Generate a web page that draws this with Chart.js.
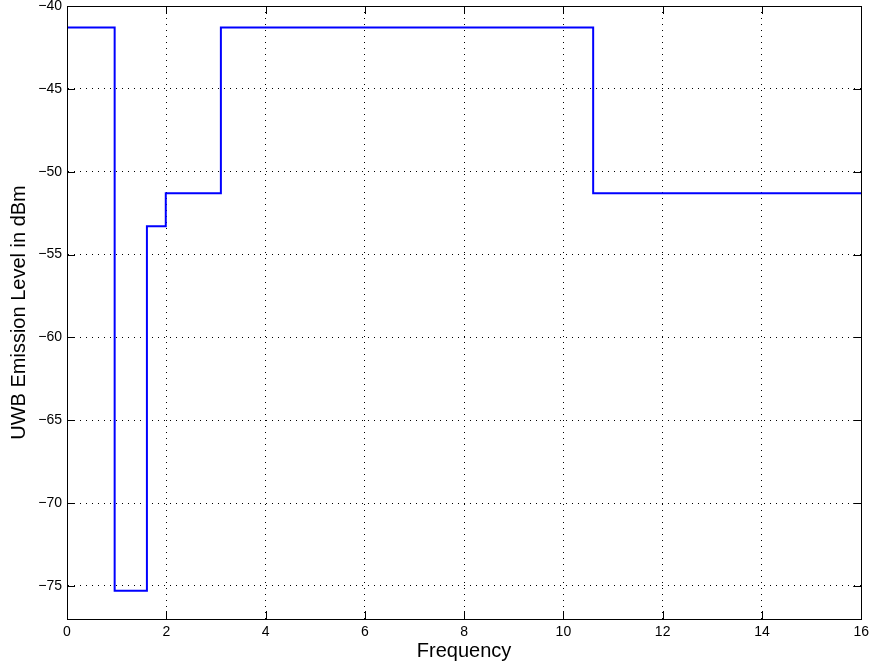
<!DOCTYPE html>
<html>
<head>
<meta charset="utf-8">
<script src="https://cdn.jsdelivr.net/npm/chart.js@4.4.1/dist/chart.umd.min.js"></script>
<style>
  html, body { margin: 0; padding: 0; background: #fff; }
  #wrap { width: 874px; height: 663px; position: relative; }
</style>
</head>
<body>
<div id="wrap"><canvas id="mask"></canvas></div>
<script>
// step edges (GHz) and emission level that holds from each edge to the next
const freqEdges = [0, 0.96, 1.61, 1.99, 3.1, 10.6, 16];
const levels = [-41.3, -75.3, -53.3, -51.3, -41.3, -51.3, -51.3];

const xTicks = [0, 2, 4, 6, 8, 10, 12, 14, 16];
const yTicks = [-75, -70, -65, -60, -55, -50, -45, -40];

const FONT = "'Liberation Sans', Arial, Helvetica, sans-serif";
const minus = v => String(v).replace("-", "\u2212");

// matlab-like ticks pointing inward on all four sides + box
const boxTicks = {
  id: "boxTicks",
  afterDraw(chart) {
    const { ctx, chartArea: a, scales } = chart;
    const len = 8;
    ctx.save();
    ctx.strokeStyle = "#000";
    ctx.lineWidth = 1;
    ctx.beginPath();
    xTicks.forEach(v => {
      const px = Math.round(scales.x.getPixelForValue(v)) + 0.5;
      ctx.moveTo(px, a.bottom); ctx.lineTo(px, a.bottom - len);
      ctx.moveTo(px, a.top); ctx.lineTo(px, a.top + len);
    });
    yTicks.forEach(v => {
      const py = Math.round(scales.y.getPixelForValue(v)) + 0.5;
      ctx.moveTo(a.left, py); ctx.lineTo(a.left + len, py);
      ctx.moveTo(a.right, py); ctx.lineTo(a.right - len, py);
    });
    ctx.stroke();
    ctx.strokeRect(Math.round(a.left) + 0.5, Math.round(a.top) + 0.5,
      Math.round(a.right - a.left), Math.round(a.bottom - a.top));
    ctx.restore();
  }
};

new Chart(document.getElementById("mask"), {
  type: "line",
  data: {
    datasets: [{
      label: "UWB mask",
      data: freqEdges.map((f, i) => ({ x: f, y: levels[i] })),
      stepped: "before",
      borderColor: "#0000ff",
      borderWidth: 2,
      backgroundColor: "transparent",
      pointRadius: 0,
      fill: false
    }]
  },
  options: {
    responsive: true,
    maintainAspectRatio: false,
    animation: false,
    layout: { padding: { top: 0, right: 12, left: 0, bottom: 0 } },
    plugins: {
      legend: { display: false },
      tooltip: { enabled: false }
    },
    scales: {
      x: {
        type: "linear",
        min: 0,
        max: 16,
        afterBuildTicks: s => { s.ticks = xTicks.map(v => ({ value: v })); },
        afterFit: s => { s.height = 44; },
        ticks: {
          color: "#000",
          font: { family: FONT, size: 14 },
          padding: 5,
          maxRotation: 0,
          callback: v => minus(v)
        },
        grid: { color: "#000", lineWidth: 1, drawTicks: false },
        border: { display: true, color: "#000", dash: [1, 5] },
        title: {
          display: true,
          text: "Frequency",
          color: "#000",
          font: { family: FONT, size: 20 },
          padding: { top: 0, bottom: 0 }
        }
      },
      y: {
        type: "linear",
        min: -77,
        max: -40,
        afterBuildTicks: s => { s.ticks = yTicks.map(v => ({ value: v })); },
        afterFit: s => { s.width = 67; s.paddingTop = 6; },
        ticks: {
          color: "#000",
          font: { family: FONT, size: 14 },
          padding: 5,
          callback: v => minus(v)
        },
        grid: { color: "#000", lineWidth: 1, drawTicks: false },
        border: { display: true, color: "#000", dash: [1, 5] },
        title: {
          display: true,
          text: "UWB Emission Level in dBm",
          color: "#000",
          font: { family: FONT, size: 20 },
          padding: { top: 7, bottom: 0 }
        }
      }
    }
  },
  plugins: [boxTicks]
});
</script>
</body>
</html>
